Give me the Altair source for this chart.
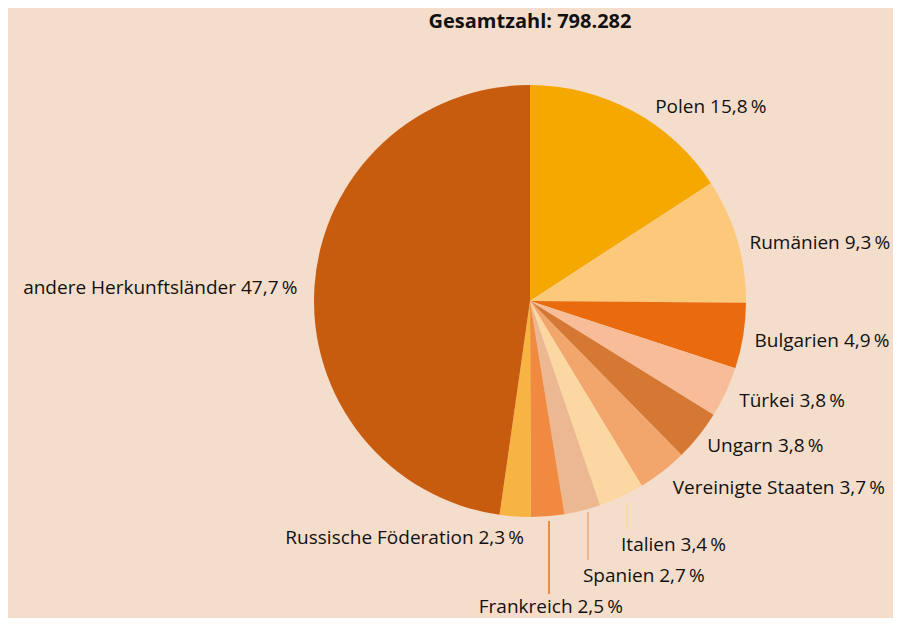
import altair as alt
import pandas as pd
import math

# ---- data ----
countries = ["Polen", "Rumänien", "Bulgarien", "Türkei", "Ungarn",
             "Vereinigte Staaten", "Italien", "Spanien", "Frankreich",
             "Russische Föderation", "andere Herkunftsländer"]
shares = [15.8, 9.3, 4.9, 3.8, 3.8, 3.7, 3.4, 2.7, 2.5, 2.3, 47.7]
total_text = "Gesamtzahl: 798.282"

# ---- styles / layout ----
colors = ["#f5a800", "#fcc97a", "#e96b0e", "#f8bd98", "#d57834",
          "#f3a66c", "#fbd8a2", "#ecb892", "#f08a40", "#f7b443", "#c85c0e"]
bg = "#f5ddcb"
font = "Open Sans"
cx, cy, R = 522, 293, 216
label_angle = [32.8, 75.2, 100.1, 115.6, 129.3, 142.6, 159.5, 169.1, 176.1, 181.45, 273.2]
label_radius = [231, 227, 228, 232, 229, 235, 260, 280, 307, 237, 233]
label_align = ["left"] * 8 + ["center", "right", "right"]
# leader lines: (country index, x, y top, y bottom)
leaders = [(6, 619, 495, 521), (7, 580, 504, 552), (8, 541, 513, 586)]

def fmt(v):
    return f"{v:.1f}".replace(".", ",") + "\u2009%"

df = pd.DataFrame({
    "country": countries,
    "share": shares,
    "order": list(range(len(countries))),
    "color": colors,
    "label": [f"{c} {fmt(s)}" for c, s in zip(countries, shares)],
    "lt": [math.radians(a) for a in label_angle],
    "lr": label_radius,
    "align": label_align,
})

lead_df = pd.DataFrame({
    "x": [l[1] for l in leaders],
    "y": [l[2] for l in leaders],
    "y2": [l[3] for l in leaders],
    "color": [colors[l[0]] for l in leaders],
})

base = alt.Chart(df)

pie = base.mark_arc(outerRadius=R, stroke=None).encode(
    theta=alt.Theta("share:Q", stack=True),
    order=alt.Order("order:Q"),
    color=alt.Color("color:N", scale=None),
    x=alt.value(cx),
    y=alt.value(cy),
)

def label_layer(al):
    return base.transform_filter(alt.datum.align == al).mark_text(
        align=al, baseline="middle", font=font, fontSize=19, color="#111111"
    ).encode(
        theta=alt.Theta("lt:Q", scale=None, stack=False),
        radius=alt.Radius("lr:Q", scale=None),
        text="label:N",
        x=alt.value(cx),
        y=alt.value(cy),
    )

lines = alt.Chart(lead_df).mark_rule(strokeWidth=2).encode(
    x=alt.X("x:Q", scale=None),
    y=alt.Y("y:Q", scale=None),
    y2="y2:Q",
    color=alt.Color("color:N", scale=None),
)

title = alt.Chart(alt.Data(values=[{"t": total_text}])).mark_text(
    font=font, fontSize=20, fontWeight="bold", color="#111111", baseline="middle"
).encode(text="t:N", x=alt.value(cx), y=alt.value(14))

chart = alt.layer(
    pie, lines, label_layer("left"), label_layer("center"), label_layer("right"), title
).properties(
    width=885, height=610, padding=0, background=bg,
    autosize=alt.AutoSizeParams(type="none"),
).configure_view(stroke=None)

chart.save("out.html", embed_options={"renderer": "svg", "actions": False})
